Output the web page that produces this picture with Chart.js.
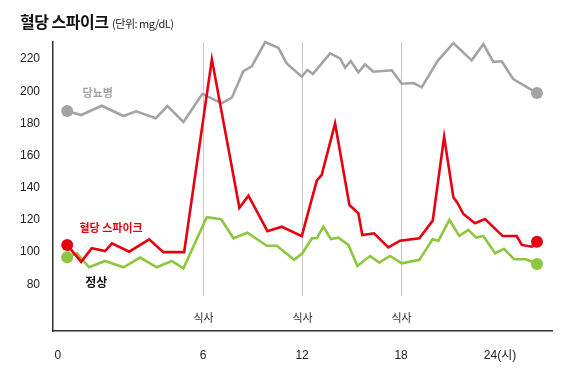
<!DOCTYPE html>
<html>
<head>
<meta charset="utf-8">
<script src="https://cdn.jsdelivr.net/npm/chart.js@4"></script>
<style>
body { margin: 0; background: #fff; }
#wrap { position: relative; width: 579px; height: 371px; }
#title { position: absolute; left: 20px; top: 9px; font-family: 'Noto Sans CJK KR', sans-serif; color: #111; white-space: nowrap; }
#title b { font-size: 16px; font-weight: 700; letter-spacing: -0.5px; }
#title span { font-size: 11px; letter-spacing: -0.5px; color: #222; }
</style>
</head>
<body>
<div id="wrap">
<div id="title"><b>혈당 스파이크</b> <span>(단위: mg/dL)</span></div>
<canvas id="myChart" width="579" height="371"></canvas>
</div>
<script>
// hours (x) and mg/dL (y)
var diabetesHours = [-2.24, -1.39, -0.14, 1.17, 1.94, 3.13, 3.84, 4.81, 5.96, 7.13, 7.74, 8.44, 8.95, 9.76, 10.56, 11.07, 11.98,
    12.32, 12.65, 13.7, 14.3, 14.61, 14.95, 15.41, 15.82, 16.32, 17.44, 18.04, 18.75, 19.25, 20.22, 21.17, 22.28, 22.99,
    23.59, 24.1, 24.8, 26.24];
var diabetesValues = [187.7, 185.2, 191, 184.6, 187.5, 183.2, 190.8, 180.9, 198.4, 192.5, 196, 212.5, 215.5, 230.5, 227, 217.3, 209,
    213.2, 210.7, 223.5, 220.4, 214.6, 218.8, 211.7, 216.7, 212.1, 213, 204.7, 205.1, 202.4, 218.9, 229.9, 219.2, 229.3,
    218.3, 218.6, 207.6, 198.9];

var spikeHours = [-2.24, -1.39, -0.75, 0.06, 0.47, 1.52, 2.73, 3.59, 4.85, 6.53, 8.2, 8.75, 9.9, 10.77, 11.98, 12.89, 13.19,
    14.0, 14.87, 15.41, 15.65, 16.36, 17.23, 17.94, 19.11, 19.92, 20.61, 21.17, 21.41, 21.78, 22.48, 23.09, 24.16, 25.01,
    25.32, 25.92, 26.24];
var spikeValues = [104.5, 94, 102.4, 100.7, 105.5, 100.3, 108, 100, 100, 219.8, 127.6, 135.1, 113, 115.8, 110, 144.4, 148,
    180, 129.3, 124.2, 110.7, 111.7, 103, 107.1, 108.6, 119.6, 171.7, 134.1, 130.7, 123.7, 118, 120.6, 110, 110,
    104.5, 103.4, 106.5];

var normalHours = [-2.24, -1.65, -0.91, 0.06, 1.17, 2.18, 3.19, 4.1, 4.81, 6.22, 7.09, 7.84, 8.68, 9.86, 10.47, 11.52, 12.02,
    12.59, 12.89, 13.29, 13.74, 14.2, 14.81, 15.35, 16.12, 16.68, 17.33, 18.04, 19.11, 19.92, 20.26, 20.93, 21.53, 22.08,
    22.55, 22.99, 23.7, 24.24, 24.85, 25.58, 26.24];
var normalValues = [96.8, 99.3, 90.6, 94.5, 90.6, 96.6, 90.6, 94.5, 90, 121.7, 120.4, 108.6, 112.1, 104, 104, 95.2, 99.3,
    108.6, 108.6, 115.8, 108.2, 109, 104.5, 91.4, 97.6, 93.5, 97.6, 93.1, 95.2, 108.2, 107, 120, 110.1, 113.8,
    109, 110.1, 99.3, 102, 95.6, 95.6, 92.7];

var xTickValues = [-2.8, 6, 12, 18, 24];
var xTickLabels = ['0', '6', '12', '18', '24(시)'];
var yTickValues = [80, 100, 120, 140, 160, 180, 200, 220];
var mealHours = [6, 12, 18];
var mealLabel = '식사';

// series name labels, placed in data space
var seriesLabels = [
    {text: '당뇨병', x: -0.39, y: 198.9, color: '#a3a3a3', size: 11},
    {text: '혈당 스파이크', x: 0.42, y: 115, color: '#e60012', size: 11},
    {text: '정상', x: -0.48, y: 80.9, color: '#111', size: 12}
];

function toPoints(xs, ys) {
    return xs.map(function (x, i) { return {x: x, y: ys[i]}; });
}
function endDots(ctx) {
    var n = ctx.dataset.data.length;
    return (ctx.dataIndex === 0 || ctx.dataIndex === n - 1) ? 6 : 0;
}

const annotate = {
    id: 'annotate',
    beforeDatasetsDraw(chart) {
        const c = chart.ctx, xs = chart.scales.x, area = chart.chartArea;
        c.save();
        c.strokeStyle = '#c8c8c8';
        c.lineWidth = 1;
        mealHours.forEach(function (h) {
            var px = Math.round(xs.getPixelForValue(h)) + 0.5;
            c.beginPath();
            c.moveTo(px, area.top);
            c.lineTo(px, area.bottom - 35);
            c.stroke();
            c.fillStyle = '#333';
            c.font = '11px "Noto Sans CJK KR", sans-serif';
            c.textAlign = 'center';
            c.textBaseline = 'middle';
            c.fillText(mealLabel, px, area.bottom - 13);
        });
        c.restore();
    },
    afterDatasetsDraw(chart) {
        const c = chart.ctx, xs = chart.scales.x, ys = chart.scales.y;
        c.save();
        c.textAlign = 'center';
        c.textBaseline = 'middle';
        seriesLabels.forEach(function (l) {
            c.fillStyle = l.color;
            c.font = '700 ' + l.size + 'px "Noto Sans CJK KR", sans-serif';
            c.fillText(l.text, xs.getPixelForValue(l.x), ys.getPixelForValue(l.y));
        });
        c.restore();
    }
};

const config = {
    type: 'line',
    data: {
        datasets: [{
            label: '당뇨병',
            data: toPoints(diabetesHours, diabetesValues),
            borderColor: '#a3a3a3',
            backgroundColor: '#a3a3a3',
            order: 3
        }, {
            label: '정상',
            data: toPoints(normalHours, normalValues),
            borderColor: '#8dc63f',
            backgroundColor: '#8dc63f',
            order: 2
        }, {
            label: '혈당 스파이크',
            data: toPoints(spikeHours, spikeValues),
            borderColor: '#e60012',
            backgroundColor: '#e60012',
            order: 1
        }]
    },
    options: {
        responsive: false,
        animation: false,
        devicePixelRatio: 1,
        clip: false,
        layout: {padding: {top: 42, right: 27, left: 0, bottom: 0}},
        elements: {
            line: {borderWidth: 2.6, tension: 0, borderJoinStyle: 'miter'},
            point: {radius: endDots, hoverRadius: endDots, borderWidth: 0}
        },
        plugins: {legend: {display: false}, tooltip: {enabled: false}},
        scales: {
            x: {
                type: 'linear',
                min: -3.1,
                max: 27.15,
                afterBuildTicks: function (axis) { axis.ticks = xTickValues.map(function (v) { return {value: v}; }); },
                afterFit: function (axis) { axis.height = 40; },
                grid: {display: true, color: 'rgba(0,0,0,0)', drawTicks: false},
                border: {display: true, color: '#333', width: 1.5},
                ticks: {
                    autoSkip: false, maxRotation: 0, padding: 17, color: '#222',
                    font: {size: 12, family: "'Liberation Sans', 'Noto Sans CJK KR', sans-serif"},
                    callback: function (v, i) { return xTickLabels[i]; }
                }
            },
            y: {
                min: 51,
                max: 230.6,
                afterBuildTicks: function (axis) { axis.ticks = yTickValues.map(function (v) { return {value: v}; }); },
                afterFit: function (axis) { axis.width = 53; },
                grid: {display: true, color: 'rgba(0,0,0,0)', drawTicks: false},
                border: {display: true, color: '#333', width: 1.5},
                ticks: {
                    padding: 13, color: '#222',
                    font: {size: 12, family: "'Liberation Sans', 'Noto Sans CJK KR', sans-serif"}
                }
            }
        }
    },
    plugins: [annotate]
};

var myChart = new Chart(document.getElementById('myChart'), config);
</script>
</body>
</html>
